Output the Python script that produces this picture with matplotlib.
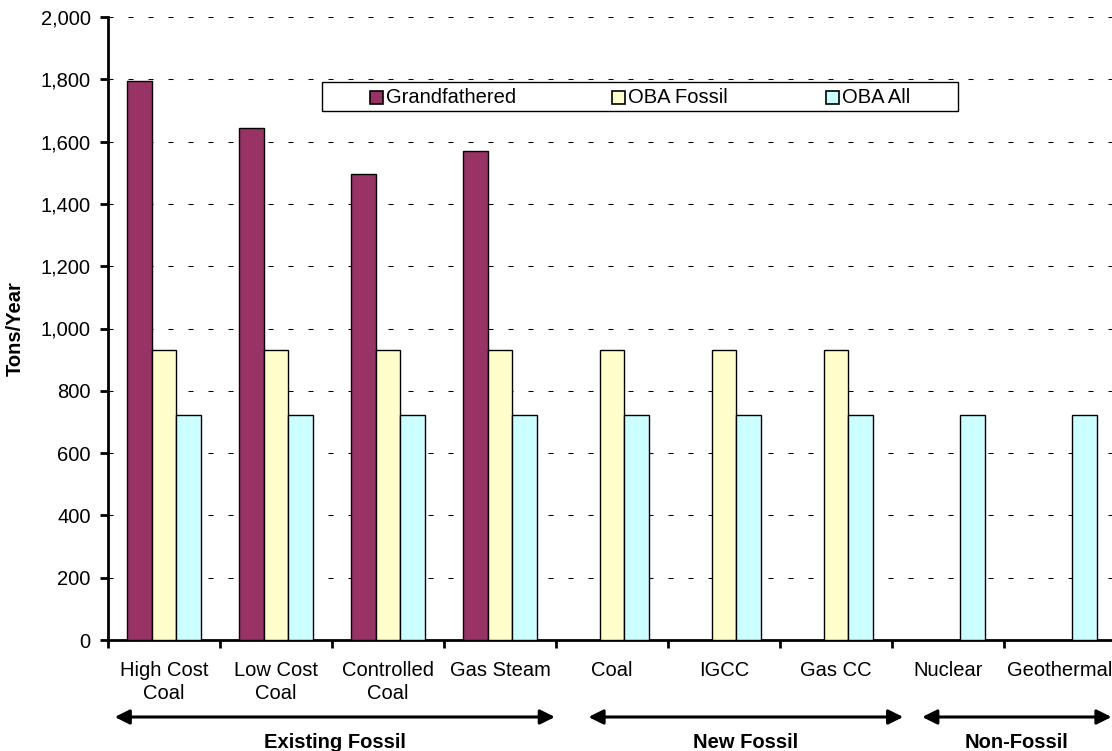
import numpy as np
import matplotlib
matplotlib.use("Agg")
import matplotlib.pyplot as plt
from matplotlib.patches import Rectangle
from matplotlib.ticker import FuncFormatter
import matplotlib.transforms as mtransforms

plt.rcParams['font.family'] = ['Liberation Sans', 'DejaVu Sans']

categories = ["High Cost\nCoal", "Low Cost\nCoal", "Controlled\nCoal", "Gas Steam",
              "Coal", "IGCC", "Gas CC", "Nuclear", "Geothermal"]
series_names = ["Grandfathered", "OBA Fossil", "OBA All"]
grandfathered = [1795, 1645, 1495, 1570, None, None, None, None, None]
oba_fossil = [930, 930, 930, 930, 930, 930, 930, None, None]
oba_all = [722, 722, 722, 722, 722, 722, 722, 722, 722]
groups = ["Existing Fossil", "New Fossil", "Non-Fossil"]
group_spans = [(-0.44, 3.49), (3.79, 6.60), (6.77, 8.46)]

colors = ["#993366", "#FFFFCC", "#CCFFFF"]
FS = 14.5

W, H = 1112, 751
fig = plt.figure(figsize=(W / 100, H / 100), dpi=100)
ax = fig.add_axes([108 / W, 1 - 640 / H, 1008 / W, 623 / H])

x = np.arange(len(categories))
bw = 0.2232
for k, (vals, col) in enumerate(zip([grandfathered, oba_fossil, oba_all], colors)):
    for i, v in enumerate(vals):
        if v is None:
            continue
        ax.bar(x[i] + (k - 1) * bw, v, width=bw, color=col, edgecolor="black",
               linewidth=1.0, zorder=3)

ax.set_xlim(-0.5, len(categories) - 0.5)
ax.set_ylim(0, 2000)
ax.set_yticks(np.arange(0, 2001, 200))
ax.yaxis.set_major_formatter(FuncFormatter(lambda v, p: f"{int(v):,}"))
ax.yaxis.grid(True, linestyle=(0, (4.8, 14.4)), color="black", linewidth=0.75, zorder=0)
ax.set_axisbelow(True)

# Category boundaries as ticks, labels centred between them
ax.set_xticks(np.arange(-0.5, len(categories) + 0.5, 1.0))
ax.set_xticklabels([])
ax.set_xticks(x, minor=True)
ax.set_xticklabels(categories, minor=True, fontsize=FS, linespacing=1.3)
ax.tick_params(axis="x", which="major", length=6, width=2, direction="out")
ax.tick_params(axis="x", which="minor", length=0, pad=15)
ax.tick_params(axis="y", length=6, width=2, direction="out", labelsize=FS, pad=6.5)

for side in ["top", "right"]:
    ax.spines[side].set_visible(False)
ax.spines["left"].set_linewidth(2)
ax.spines["bottom"].set_linewidth(2)

ax.set_ylabel("Tons/Year", fontsize=FS, fontweight="bold")
ax.yaxis.set_label_coords((25 - 108) / 1008, 0.5)

# Group arrows and labels beneath the categories
trans = mtransforms.blended_transform_factory(ax.transData, ax.transAxes)
arrow_y = (640 - 717) / 623
label_y = (640 - 742) / 623
for name, (x0, x1) in zip(groups, group_spans):
    ax.annotate("", xy=(x0, arrow_y), xytext=(x1, arrow_y), xycoords=trans,
                textcoords=trans, annotation_clip=False,
                arrowprops=dict(arrowstyle="<|-|>", color="black", lw=2.2,
                                mutation_scale=22, shrinkA=0, shrinkB=0))
    ax.text((x0 + x1) / 2, label_y, name, transform=trans, ha="center", va="center",
            fontsize=FS, fontweight="bold")

# Legend box with square swatches
fig.patches.append(Rectangle((322 / W, 1 - 111 / H), 636 / W, 29 / H,
                             transform=fig.transFigure, facecolor="white",
                             edgecolor="black", linewidth=1.0, zorder=4))
swatch_x = [370, 612, 826]
for sx, name, col in zip(swatch_x, series_names, colors):
    fig.patches.append(Rectangle((sx / W, 1 - 104 / H), 13 / W, 13 / H,
                                 transform=fig.transFigure, facecolor=col,
                                 edgecolor="black", linewidth=1.2, zorder=5))
    fig.text((sx + 16) / W, 1 - 97.5 / H, name, fontsize=FS, ha="left", va="center",
             zorder=6)

fig.savefig("out.png", dpi=100)
